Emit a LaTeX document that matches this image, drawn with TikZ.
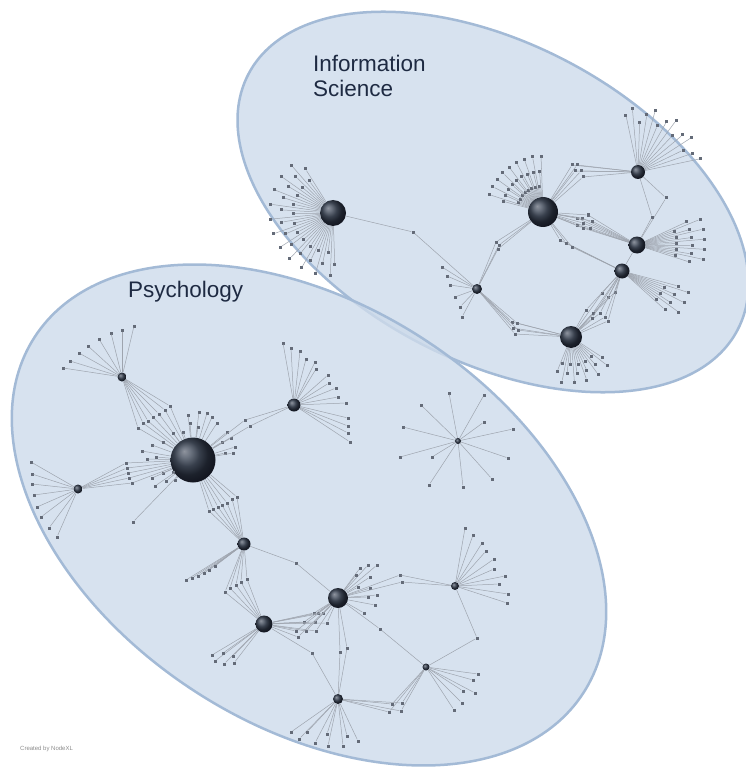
\documentclass[tikz,border=0pt]{standalone}
\usepackage{fontspec}
\setmainfont{Liberation Sans}
\usetikzlibrary{calc,shapes.geometric}

\definecolor{grpfill}{RGB}{206,219,235}
\definecolor{grpline}{RGB}{163,186,214}
\definecolor{edgecol}{RGB}{158,164,174}
\definecolor{leafcol}{RGB}{100,107,120}
\definecolor{titlecol}{RGB}{30,42,66}

% dark metallic sphere used for the hub vertices
\pgfdeclareradialshading{hubsphere}{\pgfpoint{-10bp}{10bp}}{%
  rgb(0bp)=(0.56,0.58,0.62); rgb(6bp)=(0.42,0.45,0.5); rgb(14bp)=(0.22,0.25,0.3);
  rgb(22bp)=(0.11,0.13,0.17); rgb(30bp)=(0.07,0.08,0.12); rgb(50bp)=(0.05,0.06,0.09)}

\tikzset{
  grp/.style={ellipse, draw=grpline, line width=2.5pt, fill=grpfill, fill opacity=0.8, draw opacity=1, inner sep=0},
  edge/.style={draw=edgecol, line width=0.5pt},
  leaf/.style={rectangle, fill=leafcol, inner sep=0, minimum size=3pt},
  hub/.style={circle, inner sep=0, minimum size=#1, shading=hubsphere},
  grouptitle/.style={text=titlecol, font=\fontsize{22.5}{25}\selectfont, inner sep=0, anchor=base west},
}

% leaves spread on a fan around a hub: hub, first angle, last angle, count, three radii
\newcommand{\fanleaves}[7]{%
  \foreach \k in {1,...,#4}{%
    \pgfmathsetmacro{\fanang}{#2+(#3-(#2))*(\k-1)/(#4-1)}%
    \pgfmathtruncatemacro{\fansel}{mod(\k,3)}%
    \ifcase\fansel\relax \def\fanrad{#5}\or\def\fanrad{#6}\or\def\fanrad{#7}\fi
    \node[leaf] (#1f\k) at ($(#1)+(\fanang:\fanrad)$) {};%
    \draw[edge] (#1) -- (#1f\k);%
  }}
% leaves tied to one hub: prefix, hub, list of x/y
\newcommand{\ownleaves}[3]{%
  \foreach \xx/\yy [count=\k] in {#3}{%
    \node[leaf] (#1\k) at (\xx,\yy) {};%
    \draw[edge] (#2) -- (#1\k);%
  }}
% leaves shared by two hubs: prefix, hub, hub, list of x/y
\newcommand{\bridge}[4]{%
  \foreach \xx/\yy [count=\k] in {#4}{%
    \node[leaf] (#1\k) at (\xx,\yy) {};%
    \draw[edge] (#2) -- (#1\k) -- (#3);%
  }}

\begin{document}
\begin{tikzpicture}[x=1pt, y=-1pt]
\useasboundingbox (0,0) rectangle (745,767);

% the two groups
\fill[white] (0,0) rectangle (745,767);
\node[grp, rotate=-27.6, minimum width=552pt, minimum height=318pt] (infosci) at (493,202) {};
\node[grp, rotate=-33, minimum width=654pt, minimum height=420pt] (psych) at (309,515) {};

% group titles
\node[grouptitle] (istitle1) at (313,72) {Information};
\node[grouptitle] (istitle2) at (313,97) {Science};
\node[grouptitle] (pstitle) at (128,297) {Psychology};
\node[text=black!45, font=\fontsize{6}{7}\selectfont, inner sep=0, anchor=base west] (credit) at (20,750) {Created by NodeXL};

% ---------- Information Science cluster ----------
\node[hub=26pt] (isA) at (333,213) {};
\node[hub=30pt] (isB) at (543,212) {};
\node[hub=14pt] (isC) at (638,172) {};
\node[hub=17pt] (isD) at (637,245) {};
\node[hub=15pt] (isE) at (622,271) {};
\node[hub=22pt] (isF) at (571,337) {};
\node[hub=10pt] (isG) at (477,289) {};

\bridge{isAG}{isA}{isG}{413/232}
\fanleaves{isA}{88}{238}{34}{40}{52}{63}
\fanleaves{isB}{195}{268}{26}{26}{41}{56}
\bridge{isBC}{isB}{isC}{572/165,577/165,575/171,581/171,583/177}
\bridge{isBD}{isB}{isD}{577/218,582/218,588/215,583/223,592/221,577/225,583/228,590/228}
\bridge{isBE}{isB}{isE}{560/240,566/243,572/247}
\bridge{isGB}{isG}{isB}{496/242,499/245,498/249}
\fanleaves{isC}{258}{348}{14}{50}{58}{64}
\bridge{isCD}{isC}{isD}{666/198,652/217}
\draw[edge] (isD) -- (isE);
\fanleaves{isD}{-25}{18}{16}{40}{55}{68}
\fanleaves{isE}{15}{42}{10}{45}{58}{70}
\fanleaves{isF}{33}{112}{16}{28}{37}{46}
\bridge{isEF}{isE}{isF}{602/293,608/297,615/292,586/310,593/313,600/313,592/318,605/317,608/321}
\bridge{isFG}{isF}{isG}{512/322,517/323,513/328,518/330,515/334}
\ownleaves{isGl}{isG}{442/267,447/276,450/285,455/297,460/307,462/317}

% ---------- Psychology cluster ----------
\node[hub=45pt] (psA) at (193,460) {};
\node[hub=9pt]  (psB) at (122,377) {};
\node[hub=13pt] (psC) at (294,405) {};
\node[hub=9pt]  (psD) at (78,489) {};
\node[hub=13pt] (psE) at (244,544) {};
\node[hub=20pt] (psF) at (338,598) {};
\node[hub=17pt] (psG) at (264,624) {};
\node[hub=6pt]  (psH) at (458,441) {};
\node[hub=8pt]  (psI) at (455,586) {};
\node[hub=7pt]  (psJ) at (426,667) {};
\node[hub=10pt] (psK) at (338,699) {};

\ownleaves{psBl}{psB}{63/368,70/361,79/353,88/346,99/339,111/333,122/330,134/326}
\bridge{psBA}{psB}{psA}{138/428,143/423,148/421,153/417,159/414,165/410,170/406}
\bridge{psDA}{psD}{psA}{126/463,127/468,128/473,129/478,132/483}
\ownleaves{psDl}{psD}{31/462,32/474,32/484,34/495,37/507,41/517,49/528,57/537}
\ownleaves{psAl}{psA}{188/415,199/412,207/413,212/417,217/423,190/423,198/427,183/432,173/433,163/442,152/445,142/451,147/459,156/457,163/473,173/472,175/480,166/481,155/486,152/478,227/432,231/438,222/442,235/447,225/453,233/453,133/522}
\bridge{psAC}{psA}{psC}{245/420,250/426}
\ownleaves{psCl}{psC}{283/343,291/348,300/351,306/359,315/362,316/369,328/375,329/383,336/388,338/397,346/403,348/418,348/426,348/433,350/442}
\bridge{psAE}{psA}{psE}{209/511,213/509,218/507,222/505,227/503,232/499,237/497}
\ownleaves{psEl}{psE}{186/580,192/578,198/576,204/573,209/570,215/566}
\bridge{psEG}{psE}{psG}{225/592,230/588,236/585,241/582,247/579}
\bridge{psEF}{psE}{psF}{296/563}
\ownleaves{psGl}{psG}{212/655,215/661,223/653,224/664,233/656,234/663}
\bridge{psGF}{psG}{psF}{314/613,318/613,323/613,304/622,315/622,327/623,296/631,306/631,316/631,298/637}
\ownleaves{psFl}{psF}{360/568,368/565,377/565,356/575,370/577,358/587,370/588,377/595,368/597,375/605,364/613}
\bridge{psFI}{psF}{psI}{400/575,402/582}
\ownleaves{psIl}{psI}{465/528,473/535,482/543,486/551,494/559,494/569,505/576,499/584,508/594,507/603}
\bridge{psIJ}{psI}{psJ}{477/638}
\bridge{psFJ}{psF}{psJ}{380/629}
\bridge{psFK}{psF}{psK}{340/652,347/648}
\bridge{psGK}{psG}{psK}{312/653}
\ownleaves{psKl}{psK}{291/732,299/739,307/732,315/743,327/734,328/746,343/746,347/736,358/741}
\bridge{psKJ}{psK}{psJ}{392/704,402/703,389/712,401/711}
\ownleaves{psJl}{psJ}{478/674,473/680,463/691,475/693,462/703,454/710}
\ownleaves{psHl}{psH}{449/393,421/405,484/395,484/422,513/429,403/427,400/457,432/457,508/458,492/479,429/485,463/487}

\end{tikzpicture}
\end{document}
